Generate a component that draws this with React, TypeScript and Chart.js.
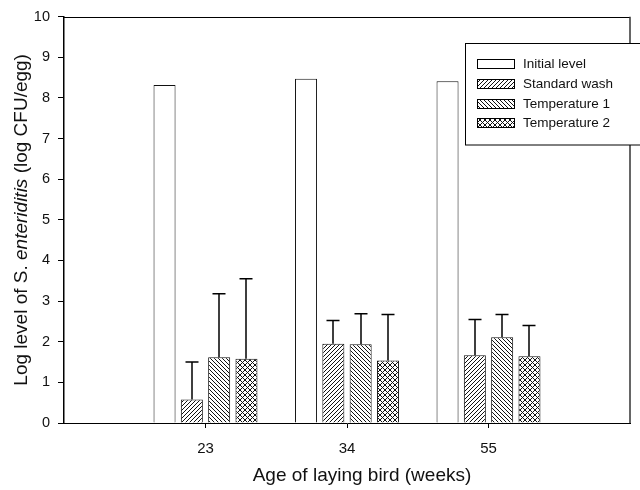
import React, { useEffect, useRef } from "react";
import { Chart, registerables } from "chart.js";

Chart.register(...registerables);

const ageLabels = ["23", "34", "55"];
const seriesNames = ["Initial level", "Standard wash", "Temperature 1", "Temperature 2"];
const initialLevel = [8.32, 8.47, 8.41];
const standardWash = [0.58, 1.95, 1.67];
const temperature1 = [1.62, 1.94, 2.11];
const temperature2 = [1.58, 1.54, 1.64];
const standardWashErr = [0.92, 0.57, 0.88];
const temperature1Err = [1.56, 0.75, 0.56];
const temperature2Err = [1.97, 1.13, 0.76];
const yTicks = [0, 1, 2, 3, 4, 5, 6, 7, 8, 9, 10];

const FONT = "Arial, 'Liberation Sans', sans-serif";

function makePattern(kind: "fwd" | "back" | "cross"): CanvasPattern | string {
  const p = kind === "cross" ? 5 : 4;
  const c = document.createElement("canvas");
  c.width = p;
  c.height = p;
  const g = c.getContext("2d");
  if (!g) return "#fff";
  g.fillStyle = "#fff";
  g.fillRect(0, 0, p, p);
  g.fillStyle = "#111";
  for (let i = 0; i < p; i++) {
    if (kind === "fwd" || kind === "cross") g.fillRect(i, p - 1 - i, 1, 1);
    if (kind === "back" || kind === "cross") g.fillRect(i, i, 1, 1);
  }
  const pat = g.createPattern(c, "repeat");
  return pat || "#fff";
}

export default function App() {
  const ref = useRef<HTMLCanvasElement>(null);

  useEffect(() => {
    const canvas = ref.current;
    if (!canvas) return;
    const fills = ["#ffffff", makePattern("fwd"), makePattern("back"), makePattern("cross")];
    const values = [initialLevel, standardWash, temperature1, temperature2];
    const errs: (number[] | null)[] = [null, standardWashErr, temperature1Err, temperature2Err];

    const frameAndText = {
      id: "frameAndText",
      afterDraw(chart: any) {
        const ctx = chart.ctx;
        const a = chart.chartArea;
        ctx.save();
        ctx.strokeStyle = "#000";
        ctx.lineWidth = 1;
        ctx.beginPath();
        ctx.moveTo(a.left, Math.round(a.top) + 0.5);
        ctx.lineTo(a.right, Math.round(a.top) + 0.5);
        ctx.stroke();
        ctx.lineWidth = 1.5;
        ctx.strokeStyle = "#333";
        ctx.beginPath();
        ctx.moveTo(a.right, a.top);
        ctx.lineTo(a.right, a.bottom);
        ctx.stroke();

        ctx.fillStyle = "#111";
        ctx.font = `19px ${FONT}`;
        ctx.textAlign = "center";
        ctx.textBaseline = "middle";
        ctx.fillText("Age of laying bird (weeks)", 362, 476);

        const segs = [
          { t: "Log level of S. ", f: `19px ${FONT}` },
          { t: "enteriditis", f: `italic 19px ${FONT}` },
          { t: " (log CFU/egg)", f: `19px ${FONT}` },
        ];
        let total = 0;
        const widths = segs.map((s) => {
          ctx.font = s.f;
          const w = ctx.measureText(s.t).width;
          total += w;
          return w;
        });
        ctx.translate(22, (a.top + a.bottom) / 2);
        ctx.rotate(-Math.PI / 2);
        ctx.textAlign = "left";
        let x = -total / 2;
        segs.forEach((s, i) => {
          ctx.font = s.f;
          ctx.fillText(s.t, x, 0);
          x += widths[i];
        });
        ctx.restore();

        ctx.save();
        const bx = 465.5, by = 43.5, bw = 200, bh = 101.5;
        ctx.fillStyle = "#fff";
        ctx.fillRect(bx, by, bw, bh);
        ctx.strokeStyle = "#000";
        ctx.lineWidth = 1;
        ctx.strokeRect(bx, by, bw, bh);
        const rows = [64, 84, 104, 123];
        chart.data.datasets.forEach((ds: any, i: number) => {
          const cy = rows[i];
          ctx.fillStyle = ds.backgroundColor;
          ctx.fillRect(477, cy - 5, 38, 10);
          ctx.strokeStyle = "#000";
          ctx.strokeRect(477.5, cy - 4.5, 37, 9);
          ctx.fillStyle = "#111";
          ctx.font = `13.5px ${FONT}`;
          ctx.textAlign = "left";
          ctx.textBaseline = "middle";
          ctx.fillText(ds.label, 523, cy);
        });
        ctx.restore();
      },
    };

    const errorBars = {
      id: "errorBars",
      afterDatasetsDraw(chart: any) {
        const ctx = chart.ctx;
        const ys = chart.scales.y;
        ctx.save();
        ctx.strokeStyle = "#000";
        ctx.lineWidth = 1.5;
        errs.forEach((e, di) => {
          if (!e) return;
          const meta = chart.getDatasetMeta(di);
          meta.data.forEach((bar: any, i: number) => {
            const top = ys.getPixelForValue(values[di][i] + e[i]);
            const x = Math.round(bar.x);
            ctx.beginPath();
            ctx.moveTo(x, bar.y);
            ctx.lineTo(x, top);
            ctx.moveTo(x - 6.5, top);
            ctx.lineTo(x + 6.5, top);
            ctx.stroke();
          });
        });
        ctx.restore();
      },
    };

    const chart = new Chart(canvas, {
      type: "bar",
      data: {
        datasets: seriesNames.map((name, di) => ({
          label: name,
          data: values[di].map((v, i) => ({ x: i + 1, y: v })),
          backgroundColor: fills[di] as any,
          borderColor: "#111",
          borderWidth: 1,
          categoryPercentage: 0.772,
          barPercentage: 0.806,
        })),
      },
      options: {
        responsive: false,
        animation: false,
        layout: { padding: { top: 15, right: 10, left: 0, bottom: 0 } },
        plugins: { legend: { display: false }, tooltip: { enabled: false } },
        scales: {
          x: {
            type: "linear",
            min: 0,
            max: 4,
            offset: false,
            afterBuildTicks: (s: any) => {
              s.ticks = [1, 2, 3].map((v) => ({ value: v }));
            },
            afterFit: (s: any) => {
              s.height = 67;
            },
            ticks: {
              color: "#111",
              font: { family: FONT, size: 15 },
              padding: 12,
              callback: (v: any) => ageLabels[Number(v) - 1] ?? "",
            },
            grid: { display: true, offset: false, drawOnChartArea: false, tickLength: 5, color: "#000" },
            border: { display: true, color: "#000", width: 1 },
          },
          y: {
            min: 0,
            max: 10,
            afterBuildTicks: (s: any) => {
              s.ticks = yTicks.map((v) => ({ value: v }));
            },
            afterFit: (s: any) => {
              s.width = 64;
            },
            ticks: {
              color: "#111",
              font: { family: FONT, size: 14.5 },
              padding: 8,
            },
            grid: { display: true, drawOnChartArea: false, tickLength: 6, color: "#000" },
            border: { display: true, color: "#000", width: 1.5 },
          },
        },
      },
      plugins: [errorBars, frameAndText],
    });
    return () => chart.destroy();
  }, []);

  return (
    <div style={{ position: "fixed", left: 0, top: 0, width: 640, height: 490, background: "#fff" }}>
      <canvas ref={ref} width={640} height={490} style={{ display: "block" }} />
    </div>
  );
}
